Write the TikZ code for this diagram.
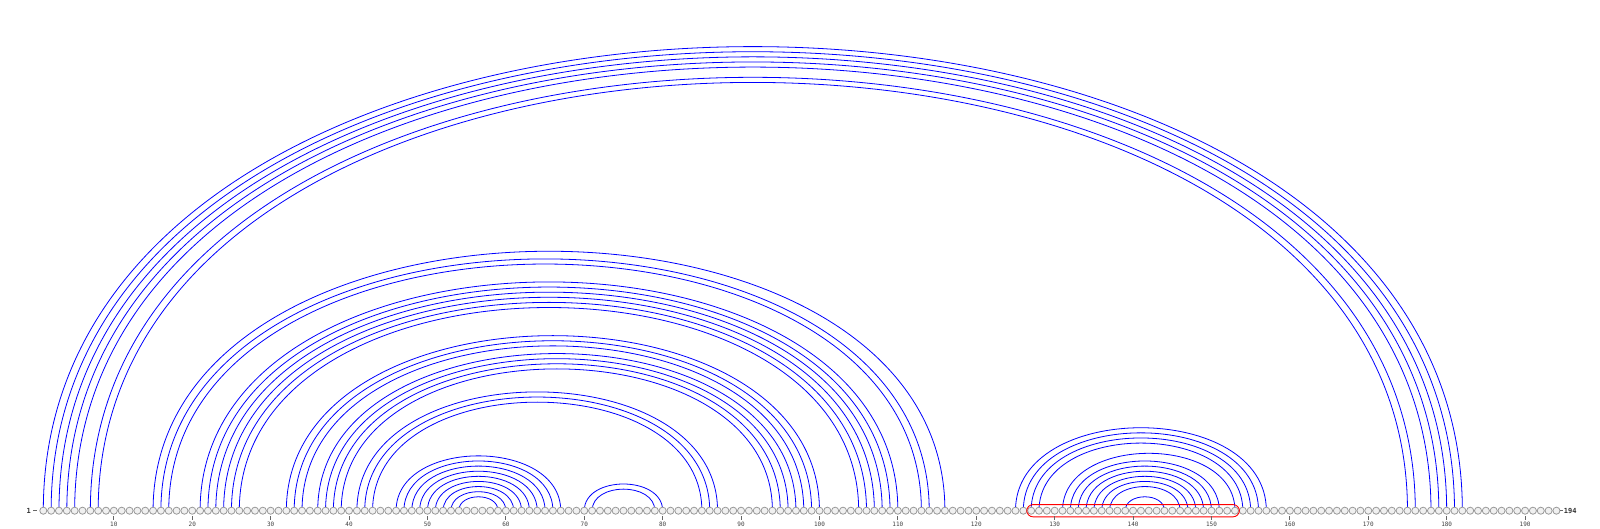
\documentclass[tikz,border=0pt]{standalone}
\usepackage{fontspec}
\usepackage{xcolor}
\usetikzlibrary{positioning, fit, backgrounds}
\newfontfamily\seqfont{DejaVu Sans Mono}
\definecolor{basefill}{HTML}{F0F0F0}
\definecolor{baseedge}{HTML}{999999}
\tikzstyle{nt} = [circle, draw=baseedge, fill=basefill, line width=0.8pt, minimum size=7.1pt, inner sep=0pt]
\tikzstyle{pairarc} = [draw=blue, line width=0.8pt]
\tikzstyle{tick} = [draw=black!60, line width=0.8pt]
\tikzstyle{ticklabel} = [font=\seqfont\fontsize{6}{6}\selectfont, text=black!75, inner sep=0pt]
\tikzstyle{endlabel} = [font=\seqfont\bfseries\fontsize{7}{7}\selectfont, text=black!80, inner sep=0pt]
\tikzstyle{selbox} = [draw=red, line width=0.9pt, rounded corners=6.5pt, inner xsep=0.5pt, inner ysep=2.2pt]

\begin{document}
\begin{tikzpicture}[x=1pt, y=1pt]
    \useasboundingbox (0,0) rectangle (1600,528);

    % sequence
    \foreach \n in {1,...,194}
        \node[nt] (n\n) at ({43.3+(\n-1)*7.84}, 17.3) {};

    % base pairs
    \begin{scope}[on background layer]
        \foreach \i/\j in {1/182, 2/181, 3/180, 4/179, 5/178, 7/176, 8/175,
                           15/116, 16/114, 17/113,
                           21/110, 22/109, 23/108, 24/107, 25/106, 26/105,
                           32/100, 33/99, 34/98, 36/97, 37/96, 38/95, 39/94,
                           41/87, 42/86, 43/85,
                           46/67, 47/66, 48/65, 49/64, 50/63, 51/62, 52/61, 53/60, 54/59,
                           70/80, 71/79,
                           125/157, 126/156, 127/155, 128/154, 131/153, 132/151, 133/150,
                           134/149, 135/148, 136/147, 137/146, 139/144} {
            \pgfmathsetmacro\h{0.435*(\j-\i)*7.84+1.5}
            \draw[pairarc] (n\i.center) .. controls +(0,\h) and +(0,\h) .. (n\j.center);
        }
    \end{scope}

    \node[selbox, fit=(n127)(n153)] (sel) {};

    \node[endlabel, anchor=east] (first) at (31,17.3) {1};
    \node[endlabel, right=3.3pt of n194] (last) {194};
    \draw[tick, shorten <=2.3pt, shorten >=2pt] (first) -- (n1);
    \draw[tick, shorten >=0.3pt] (n194) -- (last);

    \foreach \t in {10,20,...,190}
        \draw[tick] ([yshift=-1.5pt]n\t.south) -- ++(0,-3.5) node[ticklabel, below=2.2pt] (t\t) {\t};
\end{tikzpicture}
\end{document}
